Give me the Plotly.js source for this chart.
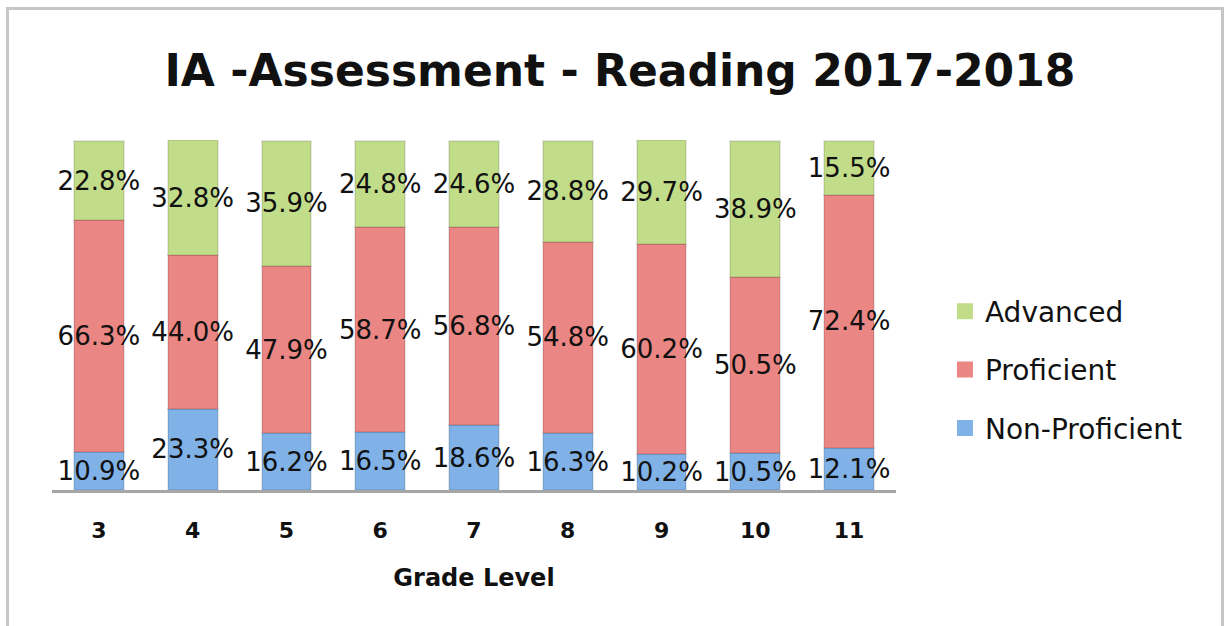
<!DOCTYPE html>
<html>
<head>
<meta charset="utf-8">
<script src="https://cdn.plot.ly/plotly-3.0.1.min.js"></script>
<style>
  html, body { margin: 0; padding: 0; background: #ffffff; }
  #wrap { position: relative; width: 1230px; height: 626px; overflow: hidden; }
  #chart { position: absolute; left: 0; top: 0; width: 1230px; height: 626px; }
  #frame { position: absolute; left: 6px; top: 7px; width: 1212px; height: 640px;
           border: 3px solid #c6c6c6; pointer-events: none; }
</style>
</head>
<body>
<div id="wrap">
  <div id="chart"></div>
  <div id="frame"></div>
</div>
<script>
const titleText = "IA -Assessment - Reading 2017-2018";
const xTitle = "Grade Level";
const grades = ["3", "4", "5", "6", "7", "8", "9", "10", "11"];
const nonProficient = [10.9, 23.3, 16.2, 16.5, 18.6, 16.3, 10.2, 10.5, 12.1];
const proficient    = [66.3, 44.0, 47.9, 58.7, 56.8, 54.8, 60.2, 50.5, 72.4];
const advanced      = [22.8, 32.8, 35.9, 24.8, 24.6, 28.8, 29.7, 38.9, 15.5];
const seriesNames = ["Non-Proficient", "Proficient", "Advanced"];
const seriesColors = ["#80b1e7", "#ea8683", "#c2dd8a"];
const legendRanks = [3, 2, 1];

function pct(arr) { return arr.map(v => v.toFixed(1) + "%"); }

const seriesData = [nonProficient, proficient, advanced];
const barTraces = seriesData.map((vals, i) => ({
  type: "bar",
  name: seriesNames[i],
  showlegend: false,
  x: grades,
  y: vals,
  text: pct(vals),
  texttemplate: "%{text}",
  textposition: "inside",
  insidetextanchor: "middle",
  textangle: 0,
  constraintext: "none",
  cliponaxis: false,
  textfont: { family: "DejaVu Sans", size: 26, color: "#111111" },
  marker: { color: seriesColors[i], line: { color: "rgba(0,0,0,0.09)", width: 2 } },
  hoverinfo: "skip"
}));

// legend-only entries (larger square swatches)
const legendTraces = seriesNames.map((nm, i) => ({
  type: "scatter",
  mode: "markers",
  name: nm,
  legendgroup: nm,
  legendrank: legendRanks[i],
  x: [null],
  y: [null],
  marker: { symbol: "square", size: 16, color: seriesColors[i], line: { width: 0 } },
  hoverinfo: "skip"
}));

const layout = {
  width: 1230,
  height: 626,
  paper_bgcolor: "rgba(0,0,0,0)",
  plot_bgcolor: "rgba(0,0,0,0)",
  barmode: "stack",
  bargap: 0.47,
  margin: { l: 52, r: 334, t: 140, b: 136 },
  title: {
    text: titleText,
    font: { family: "DejaVu Sans", size: 44, color: "#111111", weight: "bold" },
    x: 0.504, xanchor: "center",
    y: 0.888, yanchor: "middle"
  },
  xaxis: {
    type: "category",
    showgrid: false,
    showline: true,
    linecolor: "#a6a6a6",
    linewidth: 3,
    ticks: "",
    tickfont: { family: "DejaVu Sans", size: 22, color: "#111111", weight: "bold" },
    ticklabelstandoff: 19,
    title: { text: xTitle, font: { family: "DejaVu Sans", size: 24, color: "#111111", weight: "bold" }, standoff: 27 }
  },
  yaxis: {
    range: [0, 100.2],
    visible: false,
    showgrid: false,
    zeroline: false
  },
  showlegend: true,
  legend: {
    traceorder: "grouped",
    tracegroupgap: 19,
    itemsizing: "trace",
    x: 1.058, xanchor: "left",
    y: 0.343, yanchor: "middle",
    font: { family: "DejaVu Sans", size: 28, color: "#111111" },
    bgcolor: "rgba(0,0,0,0)"
  }
};

Plotly.newPlot("chart", barTraces.concat(legendTraces), layout, { displayModeBar: false, staticPlot: true });
</script>
</body>
</html>
